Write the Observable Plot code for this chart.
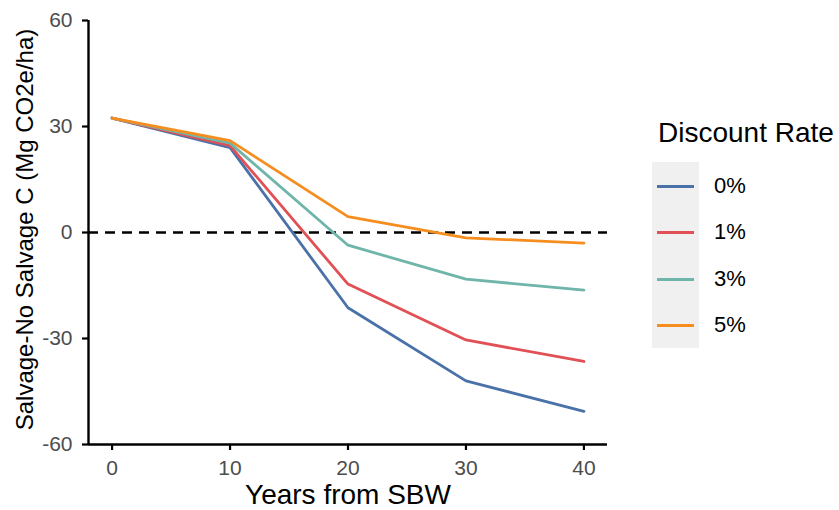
<!DOCTYPE html>
<html>
<head>
<meta charset="utf-8">
<script src="https://cdn.jsdelivr.net/npm/d3@7"></script>
<script src="https://cdn.jsdelivr.net/npm/@observablehq/plot@0.6"></script>
<style>
  body { margin: 0; background: white; font-family: "Liberation Sans", Arial, sans-serif; }
  #wrap { position: relative; width: 839px; height: 510px; }
  #legend { position: absolute; left: 0; top: 0; }
</style>
</head>
<body>
<div id="wrap"></div>
<script>
const years = [0, 10, 20, 30, 40];
const rates = ["0%", "1%", "3%", "5%"];
const colors = ["#4a72a8", "#e15055", "#6fb5aa", "#f68e1f"];
const rate0 = [32.4, 24.0, -21.3, -42.0, -50.6];
const rate1 = [32.4, 24.6, -14.6, -30.4, -36.5];
const rate3 = [32.4, 25.3, -3.6, -13.2, -16.3];
const rate5 = [32.4, 26.0, 4.5, -1.5, -3.0];
const yTicks = [-60, -30, 0, 30, 60];
const xLabel = "Years from SBW";
const yLabel = "Salvage-No Salvage C (Mg CO2e/ha)";
const legendTitle = "Discount Rate";

const series = [rate0, rate1, rate3, rate5];
const data = rates.flatMap((r, i) => years.map((yr, j) => ({year: yr, value: series[i][j], rate: r})));

const chart = Plot.plot({
  width: 839, height: 510,
  marginLeft: 88, marginRight: 232, marginTop: 20, marginBottom: 66,
  style: {fontFamily: "'Liberation Sans', Arial, sans-serif", background: "white", overflow: "visible"},
  x: {domain: [-2, 42]},
  y: {domain: [-60, 60]},
  color: {domain: rates, range: colors},
  marks: [
    Plot.ruleY([0], {stroke: "black", strokeWidth: 2.6, strokeDasharray: "10,7"}),
    Plot.lineY(data, {x: "year", y: "value", stroke: "rate", strokeWidth: 2.8}),
    Plot.ruleX([-2], {stroke: "black", strokeWidth: 2.4}),
    Plot.ruleY([-60], {stroke: "black", strokeWidth: 2.4}),
    Plot.axisX({ticks: years, tickSize: 6, stroke: "black", strokeWidth: 2.2, label: null, tickFormat: () => ""}),
    Plot.axisY({ticks: yTicks, tickSize: 6, stroke: "black", strokeWidth: 2.2, label: null, tickFormat: () => ""}),
    Plot.text(years, {x: d => d, text: d => String(d), frameAnchor: "bottom", dy: 16, lineAnchor: "top", textAnchor: "middle", fontSize: 21, fill: "#4d4d4d"}),
    Plot.text(yTicks, {y: d => d, text: d => String(d), frameAnchor: "left", dx: -16, lineAnchor: "middle", textAnchor: "end", fontSize: 21, fill: "#4d4d4d"}),
    Plot.text([xLabel], {text: d => d, frameAnchor: "bottom", dy: 51, lineAnchor: "middle", textAnchor: "middle", fontSize: 28, fill: "black"}),
    Plot.text([yLabel], {text: d => d, frameAnchor: "left", dx: -63, dy: -3, rotate: -90, lineAnchor: "middle", textAnchor: "middle", fontSize: 24, fill: "black"})
  ]
});
document.getElementById("wrap").appendChild(chart);

// Legend
const leg = document.createElement("div");
leg.id = "legend";
let html = `<div style="position:absolute;left:658px;top:117px;font-size:28px;line-height:32px;color:black;white-space:nowrap;">${legendTitle}</div>`;
html += `<div style="position:absolute;left:652px;top:162px;width:47px;height:186px;background:#f0f0f0;"></div>`;
const keyY = [186, 232, 279, 325];
rates.forEach((r, i) => {
  html += `<div style="position:absolute;left:657px;top:${keyY[i]-1.5}px;width:37px;height:3px;background:${colors[i]};"></div>`;
  html += `<div style="position:absolute;left:714px;top:${keyY[i]-13}px;font-size:22px;line-height:26px;color:black;">${r}</div>`;
});
leg.innerHTML = html;
document.getElementById("wrap").appendChild(leg);
</script>
</body>
</html>
